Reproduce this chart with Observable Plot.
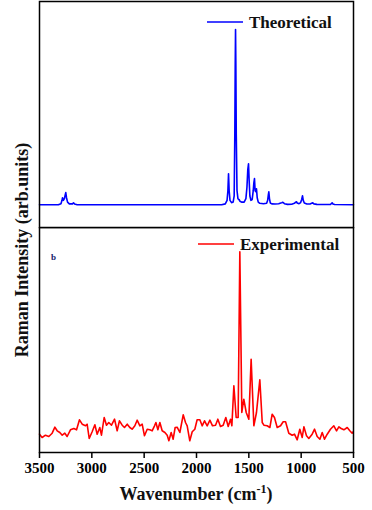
<!DOCTYPE html>
<html><head><meta charset="utf-8">
<script src="https://cdn.jsdelivr.net/npm/d3@7"></script>
<script src="https://cdn.jsdelivr.net/npm/@observablehq/plot@0.6"></script>
<style>
body{margin:0;background:#fff;}
#chart{position:relative;width:372px;height:510px;background:#fff;}
#chart svg{display:block;}
</style></head><body><div id="chart"></div>
<script>
// Theoretical Raman spectrum: [wavenumber cm-1, relative intensity]
const theoretical = [
[3500,0],[3320,0],[3295,0.6],[3285,2.5],[3280,4],[3272,2.5],[3262,3.5],[3255,5.5],[3249,6.9],[3242,4],
[3232,1.5],[3215,0.5],[3185,0.5],[3175,1.1],[3165,0.4],[3140,0],[1760,0],[1725,0.5],[1708,2.5],[1700,8],
[1694,17.7],[1688,8],[1680,2.5],[1665,1.2],[1650,1.5],[1640,5],[1634,40],[1630,80],[1627,100],[1624,80],
[1620,40],[1613,8],[1604,3.5],[1597,2.9],[1592,3],[1585,2],[1570,1.5],[1545,1.5],[1528,3.5],[1518,10],
[1510,20],[1503,23.4],[1497,14],[1490,5],[1480,2.5],[1468,3],[1458,8],[1452,12.5],[1446,14.9],[1440,8],
[1435,7.5],[1427,9.1],[1420,4],[1410,1.5],[1395,0.8],[1360,0.6],[1330,0.8],[1320,2.5],[1314,5.5],[1309,7.4],
[1303,3.5],[1295,1],[1280,0.5],[1250,0.4],[1215,0.6],[1195,1],[1185,1.1],[1175,1.4],[1160,0.6],[1130,0.2],
[1090,0.3],[1065,0.8],[1052,1.5],[1045,1.7],[1038,1],[1020,0.6],[1005,1.2],[995,3],[987,5.1],[980,2.5],
[970,1],[945,0.4],[915,0.4],[900,0.8],[889,1.1],[878,0.5],[850,0.2],[780,0.1],[720,0.2],[712,0.6],
[704,1.1],[696,0.4],[680,0.1],[500,0]
];
// Experimental Raman spectrum: [wavenumber cm-1, intensity arb. units]
const experimental = [
[3500,18.3],[3475,15],[3443,17.3],[3411,16],[3379,19.3],[3353,25.3],[3331,21.7],[3306,20],[3283,17.3],[3258,19.3],
[3236,16],[3204,22.7],[3172,24],[3146,22.7],[3118,32.7],[3092,28.3],[3060,26.7],[3045,28.3],[3025,14],[2997,20.7],
[2971,27.7],[2949,18.3],[2924,25],[2908,17.3],[2882,35],[2860,27.3],[2838,30],[2812,27.3],[2783,33.3],[2758,21.7],
[2736,31.7],[2710,27.3],[2688,25],[2662,28.3],[2637,25],[2615,23.3],[2589,26.7],[2567,32.3],[2541,26.7],[2519,28.3],
[2497,16.7],[2471,23.3],[2446,22.7],[2424,21.7],[2401,26.7],[2388,30],[2369,22.7],[2350,30],[2328,21.7],[2302,20],
[2280,17.3],[2264,11.7],[2242,20],[2223,13.3],[2204,25],[2185,25.3],[2159,20],[2127,37.7],[2105,30],[2089,26.7],
[2064,11.7],[2041,20.7],[2016,23.3],[1994,32.7],[1968,32.7],[1946,26.7],[1923,31.7],[1898,26.7],[1872,32.3],[1847,26.7],
[1818,27.3],[1796,33.3],[1771,26],[1745,27.3],[1720,35],[1697,26],[1675,33.3],[1662,26.7],[1643,66.7],[1621,35],
[1602,35],[1586,200.7],[1567,40],[1548,53.3],[1525,40],[1500,33.3],[1478,93.3],[1452,26.7],[1427,40],[1395,72.7],
[1372,30],[1356,27.3],[1325,26.7],[1299,25],[1277,38.3],[1255,35],[1229,25],[1197,26.7],[1172,30.7],[1149,30.7],
[1118,19.3],[1086,17.3],[1064,18.3],[1038,12.7],[1013,23.3],[990,15],[974,25.7],[949,16.7],[927,14],[895,18.3],
[872,23.3],[847,16],[821,13.3],[799,20],[777,13.3],[751,18.3],[720,23.3],[688,26.7],[662,21.7],[640,25.7],
[618,24],[592,22.7],[560,25],[535,21.7],[513,19.3],[503,20.7]
];
const xTicks = [3500, 3000, 2500, 2000, 1500, 1000, 500];
const seriesNames = ["Theoretical", "Experimental"];
const yTitle = "Raman Intensity (arb.units)";
const panelTag = "b";

const FONT = "'Liberation Serif','Times New Roman',serif";
const W = 372;
const theoData = theoretical.map(([wn, i]) => ({wn, i}));
const expData = experimental.map(([wn, i]) => ({wn, i}));

const topPlot = Plot.plot({
  width: W, height: 227, marginTop: 1, marginBottom: 0, marginLeft: 39, marginRight: 19,
  x: {domain: [3500, 500], axis: null},
  y: {domain: [-13, 116], axis: null},
  style: {background: "white", fontFamily: FONT, overflow: "visible"},
  marks: [
    Plot.line(theoData, {x: "wn", y: "i", stroke: "#0000ff", strokeWidth: 1.6}),
    Plot.frame({stroke: "black", strokeWidth: 1.5})
  ]
});

const bottomPlot = Plot.plot({
  width: W, height: 283, marginTop: 0, marginBottom: 58, marginLeft: 39, marginRight: 19,
  x: {domain: [3500, 500]},
  y: {domain: [0, 225], axis: null},
  style: {background: "white", fontFamily: FONT, fontSize: "15px", fontWeight: "bold", color: "black"},
  marks: [
    Plot.line(expData, {x: "wn", y: "i", stroke: "#ff0000", strokeWidth: 1.6}),
    Plot.axisX({ticks: xTicks, tickFormat: d => String(d), tickSize: 6, tickPadding: 4, strokeWidth: 1.5, label: null, fontSize: 15, fontWeight: "bold"}),
    Plot.frame({stroke: "black", strokeWidth: 1.5})
  ]
});

const chart = document.getElementById("chart");
chart.appendChild(topPlot);
chart.appendChild(bottomPlot);

// legends
function legend(svg, color, label, x1, x2, y) {
  const s = d3.select(svg);
  s.append("line").attr("x1", x1).attr("x2", x2).attr("y1", y).attr("y2", y)
    .attr("stroke", color).attr("stroke-width", 1.6);
  s.append("text").attr("x", x2 + 6).attr("y", y + 5.5).text(label)
    .attr("text-anchor", "start")
    .attr("font-family", FONT).attr("font-size", 17).attr("font-weight", "bold").attr("fill", "#111");
}
legend(topPlot, "#0000ff", seriesNames[0], 207, 243, 22);
legend(bottomPlot, "#ff0000", seriesNames[1], 198, 234, 17);

d3.select(bottomPlot).append("text").attr("x", 51).attr("y", 33).text(panelTag)
  .attr("text-anchor", "start")
  .attr("font-family", FONT).attr("font-size", 9).attr("font-weight", "bold").attr("fill", "#14246a");

// overlay with axis titles
const ov = d3.select(chart).append("svg")
  .attr("width", W).attr("height", 510)
  .style("position", "absolute").style("left", "0px").style("top", "0px").style("pointer-events", "none");
ov.append("text").attr("transform", "translate(28,250) rotate(-90)")
  .attr("text-anchor", "middle").attr("font-family", FONT).attr("font-size", 18).attr("font-weight", "bold")
  .attr("fill", "#111").text(yTitle);
const xt = ov.append("text").attr("x", 196).attr("y", 500)
  .attr("text-anchor", "middle").attr("font-family", FONT).attr("font-size", 18).attr("font-weight", "bold").attr("fill", "#111");
xt.append("tspan").text("Wavenumber (cm");
xt.append("tspan").attr("dy", -7).attr("font-size", 12).text("-1");
xt.append("tspan").attr("dy", 7).text(")");
</script></body></html>
